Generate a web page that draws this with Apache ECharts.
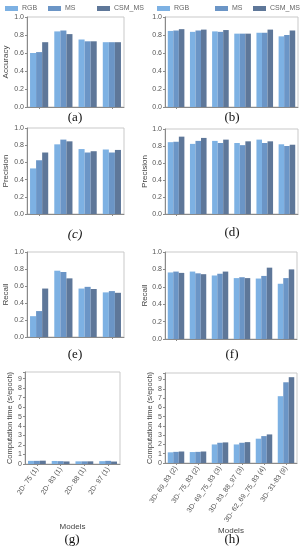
<!DOCTYPE html>
<html><head><meta charset="utf-8">
<script src="https://cdn.jsdelivr.net/npm/echarts@6/dist/echarts.min.js"></script>
<style>html,body{margin:0;padding:0;background:#fff}#c{width:307px;height:550px}</style>
</head><body><div id="c"></div>
<script>
// ---- data ----
const categories2D = ['2D- 75 (1)', '2D- 83 (1)', '2D- 88 (1)', '2D- 97 (1)'];
const categories3D = ['3D- 69_83 (2)', '3D- 75_83 (2)', '3D- 69_75_83 (3)', '3D- 83_88_97 (3)', '3D- 62_69_75_83 (4)', '3D- 31-83 (9)'];
const seriesNames = ['RGB', 'MS', 'CSM_MS'];

const accRGB2D = [0.60, 0.84, 0.75, 0.72];
const accMS2D  = [0.61, 0.85, 0.73, 0.72];
const accCSM2D = [0.72, 0.81, 0.73, 0.72];
const accRGB3D = [0.845, 0.835, 0.84, 0.815, 0.825, 0.785];
const accMS3D  = [0.85, 0.85, 0.835, 0.815, 0.825, 0.80];
const accCSM3D = [0.865, 0.86, 0.855, 0.815, 0.86, 0.85];

const precRGB2D = [0.53, 0.81, 0.755, 0.75];
const precMS2D  = [0.625, 0.865, 0.715, 0.715];
const precCSM2D = [0.715, 0.845, 0.73, 0.745];
const precRGB3D = [0.845, 0.825, 0.86, 0.835, 0.875, 0.82];
const precMS3D  = [0.85, 0.86, 0.835, 0.81, 0.835, 0.80];
const precCSM3D = [0.91, 0.895, 0.875, 0.855, 0.855, 0.815];

const recRGB2D = [0.245, 0.78, 0.57, 0.525];
const recMS2D  = [0.305, 0.765, 0.59, 0.54];
const recCSM2D = [0.57, 0.69, 0.565, 0.52];
const recRGB3D = [0.765, 0.775, 0.73, 0.70, 0.695, 0.635];
const recMS3D  = [0.775, 0.755, 0.75, 0.71, 0.725, 0.70];
const recCSM3D = [0.76, 0.745, 0.775, 0.70, 0.82, 0.80];

const timeRGB2D = [0.33, 0.32, 0.28, 0.30];
const timeMS2D  = [0.33, 0.30, 0.28, 0.33];
const timeCSM2D = [0.35, 0.27, 0.28, 0.26];
const timeRGB3D = [1.15, 1.18, 2.0, 2.0, 2.62, 7.2];
const timeMS3D  = [1.2, 1.2, 2.18, 2.18, 2.9, 8.7];
const timeCSM3D = [1.24, 1.24, 2.22, 2.25, 3.08, 9.25];

const panelLabels = ['(a)', '(b)', '(c)', '(d)', '(e)', '(f)', '(g)', '(h)'];
const yNames = ['Accuracy', '', 'Precision', 'Precision', 'Recall', 'Recall', 'Computation time (s/epoch)', 'Computation time (s/epoch)'];

// ---- layout / style ----
const colors = ['#7db1e3', '#6b95c6', '#5e7799'];
const sans = 'Liberation Sans';
const panels = [
  {grid: {left: 27, top: 17, width: 97, height: 90}, cats: categories2D, data: [accRGB2D, accMS2D, accCSM2D], max: 1, interval: 0.2, label: {x: 75, y: 118}},
  {grid: {left: 165, top: 17, width: 133, height: 90}, cats: categories3D, data: [accRGB3D, accMS3D, accCSM3D], max: 1, interval: 0.2, label: {x: 232, y: 118}},
  {grid: {left: 27, top: 128, width: 97, height: 86}, cats: categories2D, data: [precRGB2D, precMS2D, precCSM2D], max: 1, interval: 0.2, label: {x: 75, y: 235}, italic: true},
  {grid: {left: 165, top: 129, width: 133, height: 85}, cats: categories3D, data: [precRGB3D, precMS3D, precCSM3D], max: 1, interval: 0.2, label: {x: 232, y: 233}},
  {grid: {left: 27, top: 252, width: 97, height: 85}, cats: categories2D, data: [recRGB2D, recMS2D, recCSM2D], max: 1, interval: 0.2, label: {x: 75, y: 355}},
  {grid: {left: 165, top: 252, width: 132, height: 87}, cats: categories3D, data: [recRGB3D, recMS3D, recCSM3D], max: 1, interval: 0.2, label: {x: 232, y: 355}},
  {grid: {left: 25, top: 372, width: 95, height: 92}, cats: categories2D, data: [timeRGB2D, timeMS2D, timeCSM2D], max: 9.7, interval: 1, label: {x: 72, y: 540}, xlabels: true},
  {grid: {left: 165, top: 373, width: 132, height: 90}, cats: categories3D, data: [timeRGB3D, timeMS3D, timeCSM3D], max: 9.7, interval: 1, label: {x: 232, y: 540}, xlabels: true}
];

const grids = [], xAxes = [], yAxes = [], series = [], graphics = [];
panels.forEach((p, i) => {
  grids.push(Object.assign({show: true, borderColor: '#c9c9c9', borderWidth: 1, backgroundColor: 'transparent'}, p.grid));
  xAxes.push({
    type: 'category', gridIndex: i, data: p.cats,
    axisLine: {lineStyle: {color: '#8a8a8a', width: 1}},
    axisTick: {show: true, alignWithLabel: true, length: 2, lineStyle: {color: '#8a8a8a'}},
    axisLabel: p.xlabels ? {show: true, rotate: 55, fontSize: 7, color: '#555', fontFamily: sans, margin: 4, interval: 0} : {show: false},
    name: p.xlabels ? 'Models' : '', nameLocation: 'middle', nameGap: i === 6 ? 59 : 57,
    nameTextStyle: {fontSize: 8, color: '#444', fontFamily: sans}
  });
  const isTime = p.max > 1;
  yAxes.push({
    type: 'value', gridIndex: i, min: 0, max: p.max, interval: p.interval,
    splitLine: {show: false},
    axisLine: {show: true, lineStyle: {color: '#8a8a8a', width: 1}},
    axisTick: {show: true, length: 2, lineStyle: {color: '#8a8a8a'}},
    axisLabel: {fontSize: 7, color: '#555', fontFamily: sans, margin: 3,
      formatter: v => isTime ? (Math.abs(v - Math.round(v)) < 1e-6 ? String(Math.round(v)) : '') : v.toFixed(1)},
    name: yNames[i], nameLocation: 'middle', nameGap: isTime ? 11 : (i % 2 === 0 ? 17 : 14),
    nameTextStyle: {fontSize: isTime ? 7.5 : 8, color: '#444', fontFamily: sans}
  });
  p.data.forEach((vals, k) => {
    series.push({
      type: 'bar', name: seriesNames[k], xAxisIndex: i, yAxisIndex: i, data: vals,
      barGap: '0%', barCategoryGap: '25%', itemStyle: {color: colors[k]}, animation: false
    });
  });
  graphics.push({type: 'text', x: p.label.x, y: p.label.y,
    style: {text: panelLabels[i], font: (p.italic ? 'italic ' : '') + '13px "Liberation Serif"', fill: '#111', textAlign: 'center', textVerticalAlign: 'middle'}});
});

// legends positioned individually
const legendPos = [[5, 48, 97], [157, 215, 253]];
const legends = [];
legendPos.forEach(row => row.forEach((x, k) => {
  legends.push({data: [seriesNames[k]], left: x, top: 5, itemWidth: 13, itemHeight: 5, itemGap: 0,
    icon: 'rect', textStyle: {fontSize: 7, color: '#666', fontFamily: sans, padding: [0, 0, 0, -1]}, padding: 0, selectedMode: false});
}));

const chart = echarts.init(document.getElementById('c'), null, {renderer: 'canvas'});
chart.setOption({
  animation: false,
  color: colors,
  legend: legends,
  grid: grids, xAxis: xAxes, yAxis: yAxes, series: series,
  graphic: graphics
});
</script></body></html>
